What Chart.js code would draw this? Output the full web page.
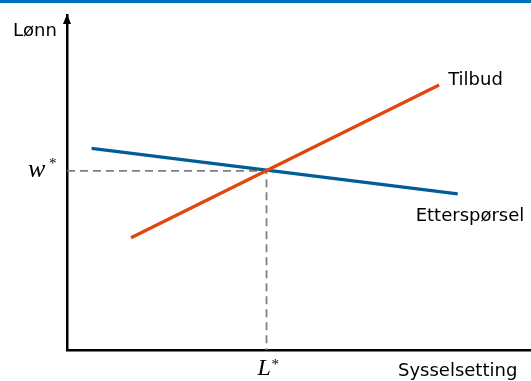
<!DOCTYPE html>
<html>
<head>
<meta charset="utf-8">
<script src="https://cdn.jsdelivr.net/npm/chart.js@4"></script>
<style>
  html, body { margin: 0; padding: 0; background: #fff; }
  #wrap { width: 531px; height: 381px; position: relative; }
</style>
</head>
<body>
<div id="wrap"><canvas id="lonn"></canvas></div>
<script>
// axis ranges (units: employment on x, wage on y)
const xRange = [0, 10];
const yRange = [0, 10];

// demand and supply curves, two end points each
const demandX = [0.53, 8.42];
const demandY = [6.02, 4.66];
const supplyX = [1.38, 8.02];
const supplyY = [3.35, 7.91];

// equilibrium
const lStar = 4.30;
const wStar = 5.35;

const labelFont = '18px "DejaVu Sans", sans-serif';
const mathFont = 'italic 26px "Liberation Serif", serif';

const toPts = (xs, ys) => xs.map((x, i) => ({ x: x, y: ys[i] }));

// extra drawing: top bar, arrow, labels
const decorations = {
  id: 'decorations',
  beforeDraw(chart) {
    const ctx = chart.ctx;
    ctx.save();
    ctx.fillStyle = '#0070C0';
    ctx.fillRect(0, 0, chart.width, 3);
    ctx.restore();
  },
  afterDraw(chart) {
    const ctx = chart.ctx;
    const xs = chart.scales.x;
    const ys = chart.scales.y;
    const x0 = xs.getPixelForValue(xRange[0]);
    const yTop = ys.getPixelForValue(yRange[1]);
    ctx.save();

    // arrow on the y axis
    ctx.fillStyle = '#000';
    ctx.beginPath();
    ctx.moveTo(x0, yTop - 1);
    ctx.lineTo(x0 - 4, yTop + 9);
    ctx.lineTo(x0 + 4, yTop + 9);
    ctx.closePath();
    ctx.fill();

    ctx.font = labelFont;
    ctx.textBaseline = 'alphabetic';
    ctx.textAlign = 'left';
    ctx.fillText('Lønn', 13, 36);
    ctx.fillText('Sysselsetting', 398, 376);

    const sEnd = { x: xs.getPixelForValue(supplyX[1]), y: ys.getPixelForValue(supplyY[1]) };
    const dEnd = { x: xs.getPixelForValue(demandX[1]), y: ys.getPixelForValue(demandY[1]) };
    ctx.fillText('Tilbud', sEnd.x + 9, sEnd.y);
    ctx.fillText('Etterspørsel', dEnd.x - 42, dEnd.y + 27);

    // w* and L*
    const wy = ys.getPixelForValue(wStar);
    const lx = xs.getPixelForValue(lStar);
    ctx.font = mathFont;
    ctx.fillText('w', 28, wy + 6);
    ctx.font = 'italic 24px "Liberation Serif", serif';
    ctx.fillText('L', lx - 9, 375);
    ctx.font = '15px "Liberation Serif", serif';
    ctx.fillText('*', 49, wy - 3);
    ctx.fillText('*', lx + 5, 369);
    ctx.restore();
  }
};

const config = {
  type: 'scatter',
  data: {
    datasets: [
      {
        label: 'w* guide',
        data: [{ x: xRange[0], y: wStar }, { x: lStar, y: wStar }, { x: lStar, y: yRange[0] }],
        showLine: true,
        borderColor: '#7f7f7f',
        borderWidth: 1.8,
        borderDash: [8, 5],
        pointRadius: 0,
        order: 3
      },
      {
        label: 'Etterspørsel',
        data: toPts(demandX, demandY),
        showLine: true,
        borderColor: '#005E96',
        borderWidth: 3.2,
        pointRadius: 0,
        order: 2
      },
      {
        label: 'Tilbud',
        data: toPts(supplyX, supplyY),
        showLine: true,
        borderColor: '#E0470E',
        borderWidth: 3.2,
        pointRadius: 0,
        order: 1
      }
    ]
  },
  options: {
    responsive: true,
    maintainAspectRatio: false,
    animation: false,
    layout: { padding: { left: 67, right: 0, top: 15, bottom: 31 } },
    plugins: {
      legend: { display: false },
      tooltip: { enabled: false }
    },
    scales: {
      x: {
        type: 'linear',
        min: xRange[0],
        max: xRange[1],
        grid: { display: false },
        ticks: { display: false },
        border: { display: true, color: '#000', width: 2.5 },
        afterFit(scale) { scale.height = 0; }
      },
      y: {
        type: 'linear',
        min: yRange[0],
        max: yRange[1],
        grid: { display: false },
        ticks: { display: false },
        border: { display: true, color: '#000', width: 2.5 },
        afterFit(scale) { scale.width = 0; }
      }
    }
  },
  plugins: [decorations]
};

new Chart(document.getElementById('lonn'), config);
</script>
</body>
</html>
